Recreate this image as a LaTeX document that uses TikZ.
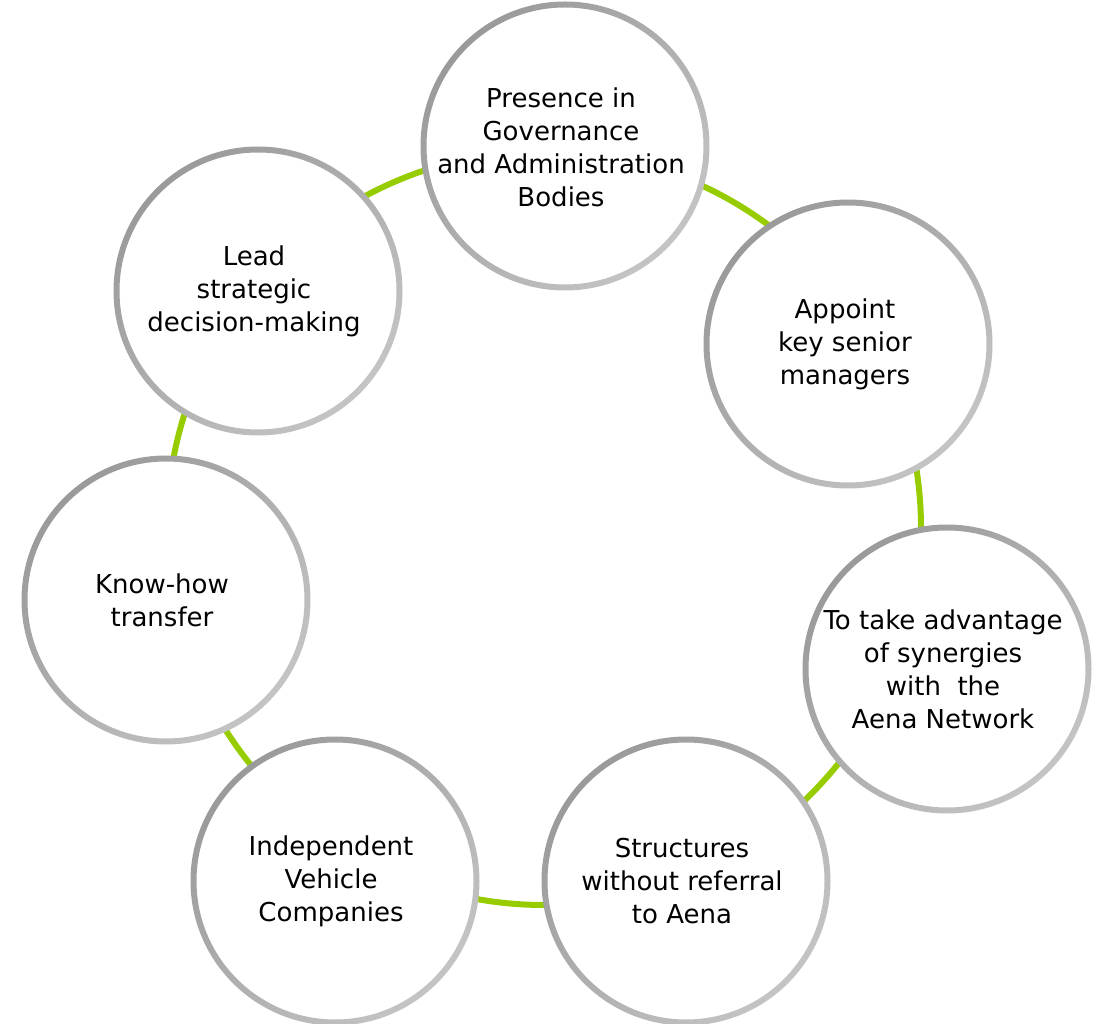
\documentclass[tikz,border=0pt]{standalone}
\usepackage{fontspec}
\setmainfont{DejaVu Sans}
\definecolor{cyclegreen}{RGB}{150,204,0}
\definecolor{ringdark}{RGB}{154,154,154}
\definecolor{ringlight}{RGB}{196,196,196}
\tikzset{
  bub/.style={circle, fill=white, minimum size=280pt, inner sep=0pt},
  ring/.style={even odd rule, top color=ringdark, bottom color=ringlight, shading angle=45},
  lbl/.style={align=center, font=\fontsize{26}{33}\selectfont, inner sep=0pt, text=black},
  cycleline/.style={draw=cyclegreen, line width=6pt}
}
\begin{document}
\begin{tikzpicture}[x=1pt, y=-1pt]
\useasboundingbox (0,0) rectangle (1104,1024);
\coordinate (hub) at (544,528);
\draw[cycleline] (hub) circle[radius=377];

\node[bub] (c1) at (565,146) {};
\node[bub] (c2) at (848,344) {};
\node[bub] (c3) at (947,669) {};
\node[bub] (c4) at (686,881) {};
\node[bub] (c5) at (335,881) {};
\node[bub] (c6) at (166,600) {};
\node[bub] (c7) at (258,291) {};

\foreach \c in {c1,c2,c3,c4,c5,c6,c7}{
  \shade[ring] (\c.center) circle[radius=144.5] (\c.center) circle[radius=138.5];
}

\node[lbl] (t1) at ([xshift=-4pt,yshift=-1pt]c1.center) {Presence in\\Governance\\and Administration\\Bodies};
\node[lbl] (t2) at ([xshift=-3pt]c2.center) {Appoint\\key senior\\managers};
\node[lbl] (t3) at ([xshift=-4pt]c3.center) {To take advantage\\of synergies\\with~ the\\Aena Network};
\node[lbl] (t4) at ([xshift=-4pt]c4.center) {Structures\\without referral\\to Aena};
\node[lbl] (t5) at ([xshift=-4pt]c5.center) {Independent\\Vehicle\\Companies};
\node[lbl] (t6) at ([xshift=-4pt]c6.center) {Know-how\\transfer};
\node[lbl] (t7) at ([xshift=-4pt]c7.center) {Lead\\strategic\\decision-making};
\end{tikzpicture}
\end{document}
